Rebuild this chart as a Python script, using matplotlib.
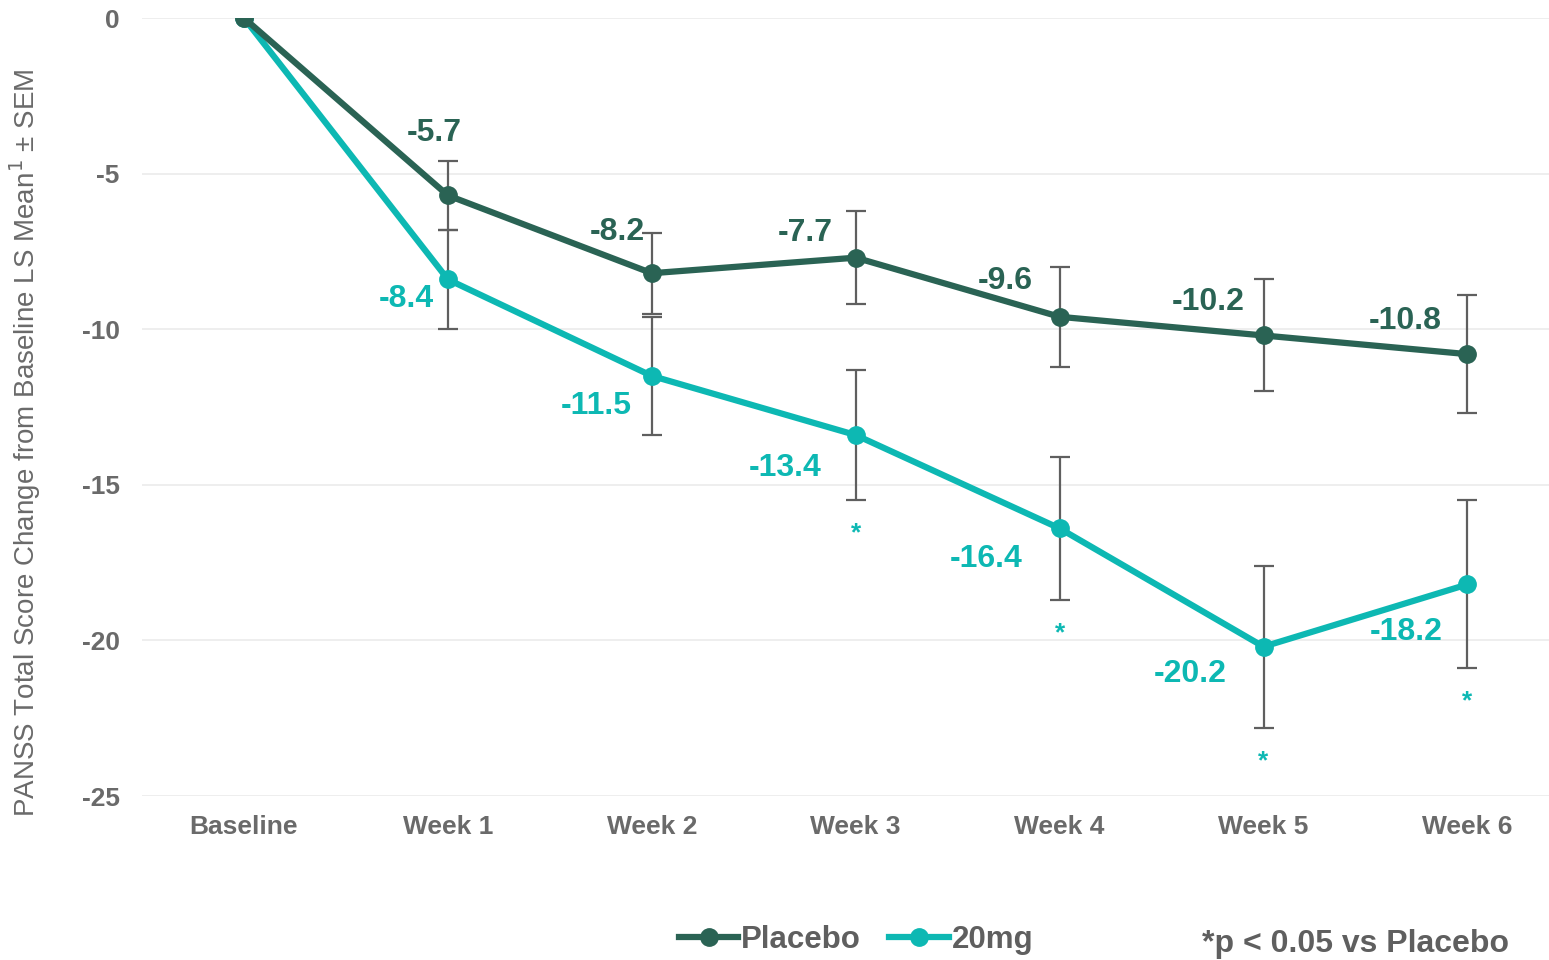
import matplotlib
matplotlib.use("Agg")
import matplotlib.pyplot as plt
from matplotlib.lines import Line2D

plt.rcParams['font.family'] = ['Liberation Sans', 'DejaVu Sans']

# visits and LS mean change from baseline
visits = ["Baseline", "Week 1", "Week 2", "Week 3", "Week 4", "Week 5", "Week 6"]
placebo = [0, -5.7, -8.2, -7.7, -9.6, -10.2, -10.8]
placebo_sem = [0, 1.1, 1.3, 1.5, 1.6, 1.8, 1.9]
dose20 = [0, -8.4, -11.5, -13.4, -16.4, -20.2, -18.2]
dose20_sem = [0, 1.6, 1.9, 2.1, 2.3, 2.6, 2.7]
significant = [False, False, False, True, True, True, True]

PLACEBO_C = "#2A6354"
DOSE_C = "#0DB8B3"
GREY = "#5F5F5F"
TICK_GREY = "#6A6A6A"

# label offsets in points (dx, dy) relative to each point
placebo_off = [None, (-10, 45), (-25, 30), (-36, 18), (-39, 26), (-40, 24), (-45, 24)]
dose_off = [None, (-30, -14), (-40, -22), (-51, -24), (-53, -22), (-53, -20), (-44, -34)]

fig = plt.figure(figsize=(15.49, 9.6), dpi=100)
ax = fig.add_axes([0.0917, 0.1708, 0.9083, 0.8104])

x = list(range(len(visits)))

ax.errorbar(x[1:], placebo[1:], yerr=placebo_sem[1:], fmt="none", ecolor=GREY,
            elinewidth=1.6, capsize=7, capthick=1.6, zorder=2)
ax.errorbar(x[1:], dose20[1:], yerr=dose20_sem[1:], fmt="none", ecolor=GREY,
            elinewidth=1.6, capsize=7, capthick=1.6, zorder=2)

ax.plot(x, placebo, color=PLACEBO_C, lw=4.5, marker="o", ms=12.5, zorder=4)
ax.plot(x, dose20, color=DOSE_C, lw=4.5, marker="o", ms=12.5, zorder=3)

for i in range(1, len(x)):
    ax.annotate(f"{placebo[i]:.1f}", (x[i], placebo[i]), xytext=placebo_off[i],
                textcoords="offset points", ha="center", va="center",
                fontsize=23, fontweight="bold", color=PLACEBO_C, zorder=5)
    ax.annotate(f"{dose20[i]:.1f}", (x[i], dose20[i]), xytext=dose_off[i],
                textcoords="offset points", ha="center", va="center",
                fontsize=23, fontweight="bold", color=DOSE_C, zorder=5)
    if significant[i]:
        ax.annotate("*", (x[i], dose20[i] - dose20_sem[i]), xytext=(0, -24),
                    textcoords="offset points", ha="center", va="center",
                    fontsize=19, fontweight="bold", color=DOSE_C)

ax.set_xlim(-0.5, 6.4)
ax.set_ylim(-25, 0)
ax.set_yticks([0, -5, -10, -15, -20, -25])
ax.set_yticklabels(["0", "-5", "-10", "-15", "-20", "-25"])
ax.set_xticks(x)
ax.set_xticklabels(visits)
ax.tick_params(length=0, labelsize=19, labelcolor=TICK_GREY)
for lab in ax.get_xticklabels() + ax.get_yticklabels():
    lab.set_fontweight("bold")
ax.tick_params(axis="y", pad=16)
ax.tick_params(axis="x", pad=14)

ax.grid(axis="y", color="#EBEBEB", lw=1.2)
ax.set_axisbelow(True)
for s in ax.spines.values():
    s.set_visible(False)

fig.text(0.016, 0.539, "PANSS Total Score Change from Baseline LS Mean$^1$ ± SEM",
         rotation=90, ha="center", va="center", fontsize=20, color=TICK_GREY)

handles = [Line2D([], [], color=PLACEBO_C, lw=4.5, marker="o", ms=12.5),
           Line2D([], [], color=DOSE_C, lw=4.5, marker="o", ms=12.5)]
leg = fig.legend(handles, ["Placebo", "20mg"], loc="center", ncol=2,
                 bbox_to_anchor=(0.5527, 0.021), frameon=False, fontsize=22.5,
                 handlelength=1.9, handletextpad=0.1, columnspacing=0.9,
                 borderpad=0)
for t in leg.get_texts():
    t.set_fontweight("bold")
    t.set_color(GREY)

fig.text(0.875, 0.017, "*p < 0.05 vs Placebo", ha="center", va="center",
         fontsize=23, fontweight="bold", color=GREY)

fig.savefig("out.png", dpi=100)
